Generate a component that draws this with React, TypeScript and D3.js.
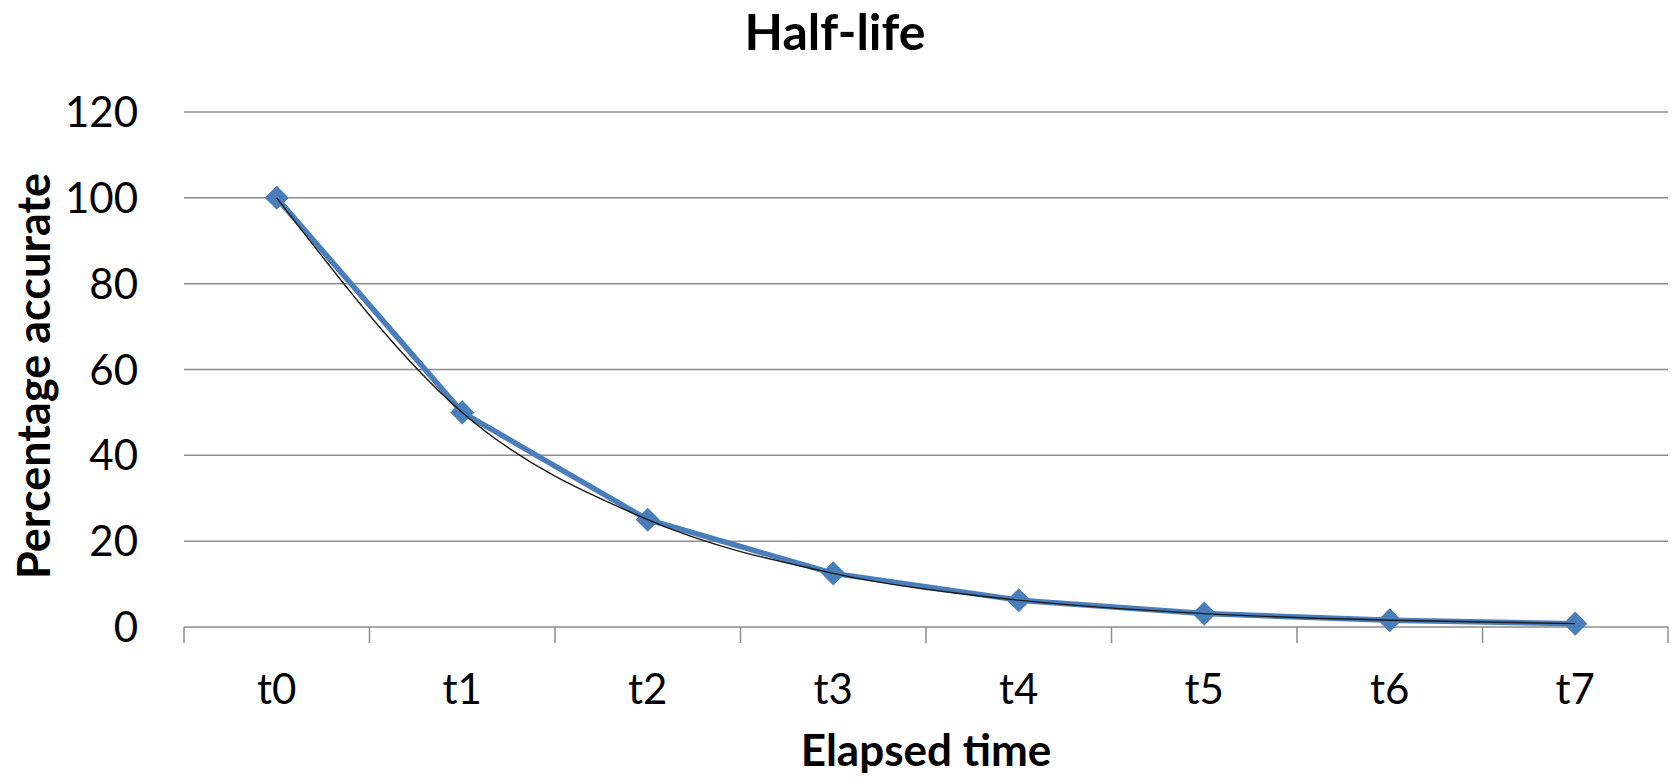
import React, { useEffect, useRef } from "react";
import * as d3 from "d3";

// chart data
const categories = ["t0", "t1", "t2", "t3", "t4", "t5", "t6", "t7"];
const accuracy = [100, 50, 25, 12.5, 6.25, 3.125, 1.5625, 0.78125];
const yTicks = [0, 20, 40, 60, 80, 100, 120];

const WIDTH = 1675;
const HEIGHT = 780;
const FONT = "Lato, 'Open Sans', sans-serif";

export default function App() {
  const svgRef = useRef<SVGSVGElement>(null);

  useEffect(() => {
    if (!svgRef.current) return;
    const svg = d3.select(svgRef.current);
    svg.selectAll("*").remove();

    const left = 184;
    const right = 1668;
    const top = 112;
    const bottom = 627;

    const x = d3.scaleBand<string>().domain(categories).range([left, right]);
    const y = d3.scaleLinear().domain([0, 120]).range([bottom, top]);

    const cx = (i: number) => (x(categories[i]) || 0) + x.bandwidth() / 2;

    // grid lines
    svg
      .append("g")
      .selectAll("line")
      .data(yTicks.filter((t) => t > 0))
      .enter()
      .append("line")
      .attr("x1", left)
      .attr("x2", right)
      .attr("y1", (d) => y(d))
      .attr("y2", (d) => y(d))
      .attr("stroke", "#8c8c8c")
      .attr("stroke-width", 1.5);

    // x axis line + tick marks between categories
    svg
      .append("line")
      .attr("x1", left)
      .attr("x2", right)
      .attr("y1", bottom)
      .attr("y2", bottom)
      .attr("stroke", "#8c8c8c")
      .attr("stroke-width", 1.5);

    const boundaries = categories.map((c) => x(c) || 0).concat([right]);
    svg
      .append("g")
      .selectAll("line")
      .data(boundaries)
      .enter()
      .append("line")
      .attr("x1", (d) => d)
      .attr("x2", (d) => d)
      .attr("y1", bottom)
      .attr("y2", bottom + 16)
      .attr("stroke", "#8c8c8c")
      .attr("stroke-width", 1.5);

    // y tick labels
    svg
      .append("g")
      .selectAll("text")
      .data(yTicks)
      .enter()
      .append("text")
      .attr("x", 138)
      .attr("y", (d) => y(d))
      .attr("dy", "0.36em")
      .attr("text-anchor", "end")
      .style("font-family", FONT)
      .style("font-size", "42px")
      .attr("fill", "#000")
      .text((d) => d);

    // x tick labels
    svg
      .append("g")
      .selectAll("text")
      .data(categories)
      .enter()
      .append("text")
      .attr("x", (d) => (x(d) || 0) + x.bandwidth() / 2)
      .attr("y", 704)
      .attr("text-anchor", "middle")
      .style("font-family", FONT)
      .style("font-size", "42px")
      .attr("fill", "#000")
      .text((d) => d);

    // data line
    const line = d3
      .line<number>()
      .x((_, i) => cx(i))
      .y((d) => y(d));

    svg
      .append("path")
      .datum(accuracy)
      .attr("fill", "none")
      .attr("stroke", "#4A7EBB")
      .attr("stroke-width", 5.5)
      .attr("stroke-linejoin", "round")
      .attr("d", line);

    // diamond markers
    const diamond = d3.symbol().type(d3.symbolSquare).size(290);
    svg
      .append("g")
      .selectAll("path")
      .data(accuracy)
      .enter()
      .append("path")
      .attr("d", diamond)
      .attr("transform", (d, i) => `translate(${cx(i)},${y(d)}) rotate(45)`)
      .attr("fill", "#4A7EBB");

    // smooth trend curve through the same points
    const trend = d3
      .line<number>()
      .x((_, i) => cx(i))
      .y((d) => y(d))
      .curve(d3.curveMonotoneX);

    svg
      .append("path")
      .datum(accuracy)
      .attr("fill", "none")
      .attr("stroke", "#1a1a1a")
      .attr("stroke-width", 1.4)
      .attr("d", trend);

    // title
    svg
      .append("text")
      .attr("x", 835)
      .attr("y", 50)
      .attr("text-anchor", "middle")
      .style("font-family", FONT)
      .style("font-size", "50px")
      .style("font-weight", "bold")
      .text("Half-life");

    // x axis title
    svg
      .append("text")
      .attr("x", (left + right) / 2)
      .attr("y", 766)
      .attr("text-anchor", "middle")
      .style("font-family", FONT)
      .style("font-size", "44px")
      .style("font-weight", "bold")
      .text("Elapsed time");

    // y axis title
    svg
      .append("text")
      .attr("transform", `translate(50,376) rotate(-90)`)
      .attr("text-anchor", "middle")
      .style("font-family", FONT)
      .style("font-size", "45px")
      .style("font-weight", "bold")
      .text("Percentage accurate");
  }, []);

  return (
    <svg
      ref={svgRef}
      width={WIDTH}
      height={HEIGHT}
      style={{ position: "absolute", left: 0, top: 0, background: "#fff" }}
    />
  );
}
